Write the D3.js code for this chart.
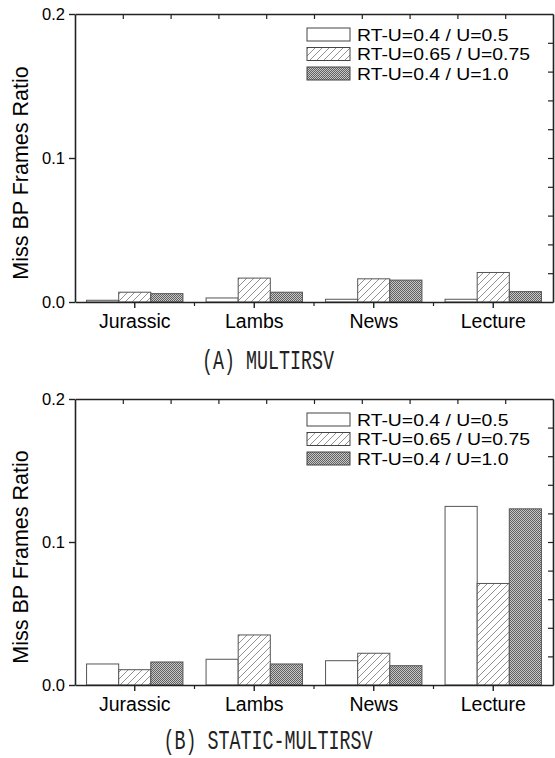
<!DOCTYPE html>
<html>
<head>
<meta charset="utf-8">
<script src="https://cdn.jsdelivr.net/npm/d3@7/dist/d3.min.js"></script>
<style>
  body { margin: 0; background: #fff; }
  svg { display: block; }
</style>
</head>
<body>
<script>
// data
const categories = ['Jurassic', 'Lambs', 'News', 'Lecture'];
const seriesNames = ['RT-U=0.4 / U=0.5', 'RT-U=0.65 / U=0.75', 'RT-U=0.4 / U=1.0'];
const yTicks = [0.0, 0.1, 0.2];

// (A) MULTIRSV
const multiLow = [0.0012, 0.0028, 0.0019, 0.0019];
const multiMid = [0.0068, 0.0166, 0.0161, 0.0205];
const multiHigh = [0.0058, 0.0068, 0.0152, 0.0072];

// (B) STATIC-MULTIRSV
const staticLow = [0.0147, 0.0180, 0.0170, 0.1249];
const staticMid = [0.0107, 0.0350, 0.0222, 0.0710];
const staticHigh = [0.0161, 0.0147, 0.0135, 0.1232];

const captions = ['(A) MULTIRSV', '(B) STATIC-MULTIRSV'];

const W = 555, H = 758;
const left = 75, right = 553;
const panels = [
  { top: 14, bottom: 302, series: [multiLow, multiMid, multiHigh], caption: captions[0], capY: 369 },
  { top: 399, bottom: 685, series: [staticLow, staticMid, staticHigh], caption: captions[1], capY: 749 }
];

const svg = d3.select('body').append('svg')
  .attr('width', W)
  .attr('height', H);

// fills: plain, hatched, dotted
const defs = svg.append('defs');
const hatch = defs.append('pattern')
  .attr('id', 'hatch')
  .attr('patternUnits', 'userSpaceOnUse')
  .attr('width', 7).attr('height', 7);
hatch.append('rect').attr('width', 7).attr('height', 7).attr('fill', '#fff');
hatch.append('path')
  .attr('d', 'M0,7 L7,0 M-1,1 L1,-1 M6,8 L8,6')
  .attr('stroke', '#777').attr('stroke-width', 0.8);

const dots = defs.append('pattern')
  .attr('id', 'dots')
  .attr('patternUnits', 'userSpaceOnUse')
  .attr('width', 2).attr('height', 2);
dots.append('rect').attr('width', 2).attr('height', 2).attr('fill', '#c8c8c8');
dots.append('rect').attr('width', 1).attr('height', 1).attr('fill', '#606060');
dots.append('rect').attr('x', 1).attr('y', 1).attr('width', 1).attr('height', 1).attr('fill', '#606060');

const fills = ['#fff', 'url(#hatch)', 'url(#dots)'];

const font = '"Liberation Sans", Arial, sans-serif';

panels.forEach(function (p) {
  const g = svg.append('g');

  const x = d3.scaleBand().domain(categories).range([left, right]).paddingInner(0).paddingOuter(0);
  const inner = d3.scaleBand().domain(d3.range(seriesNames.length)).range([0, x.bandwidth()]).paddingOuter(0.36).paddingInner(0);
  const y = d3.scaleLinear().domain([0, 0.2]).range([p.bottom, p.top]);

  // bars
  categories.forEach(function (c, ci) {
    p.series.forEach(function (s, si) {
      g.append('rect')
        .attr('x', x(c) + inner(si))
        .attr('y', y(s[ci]))
        .attr('width', inner.bandwidth())
        .attr('height', y(0) - y(s[ci]))
        .attr('fill', fills[si])
        .attr('stroke', '#555')
        .attr('stroke-width', 1);
    });
  });

  // left axis
  const yAxis = g.append('g')
    .attr('transform', 'translate(' + left + ',0)')
    .call(d3.axisLeft(y).tickValues(yTicks).tickFormat(d3.format('.1f')).tickSize(6).tickSizeOuter(0));
  yAxis.select('.domain').attr('stroke', '#222').attr('stroke-width', 1.6);
  yAxis.selectAll('.tick line').attr('stroke', '#222').attr('stroke-width', 1.4);
  yAxis.selectAll('text').attr('font-family', font).attr('font-size', 16.5).attr('fill', '#000').attr('dx', -1);

  // bottom axis
  const xAxis = g.append('g')
    .attr('transform', 'translate(0,' + p.bottom + ')')
    .call(d3.axisBottom(x).tickSize(6).tickSizeOuter(0).tickPadding(6));
  xAxis.select('.domain').attr('stroke', '#222').attr('stroke-width', 1.6);
  xAxis.selectAll('.tick line').attr('stroke', '#222').attr('stroke-width', 1.4);
  xAxis.selectAll('text').attr('font-family', font).attr('font-size', 19.5).attr('fill', '#000');

  // small ticks between categories
  g.selectAll('.between')
    .data(categories.slice(1))
    .enter().append('line')
    .attr('x1', function (c) { return x(c); })
    .attr('x2', function (c) { return x(c); })
    .attr('y1', p.bottom)
    .attr('y2', p.bottom + 4)
    .attr('stroke', '#222').attr('stroke-width', 1.2);

  // top and right frame with inward ticks
  const xt = d3.scaleLinear().domain([0, 10]).range([left, right]);
  const topAxis = g.append('g')
    .attr('transform', 'translate(0,' + p.top + ')')
    .call(d3.axisBottom(xt).tickValues(d3.range(1, 10)).tickSize(5).tickSizeOuter(0).tickFormat(''));
  topAxis.select('.domain').attr('stroke', '#222').attr('stroke-width', 1.6);
  topAxis.selectAll('.tick line').attr('stroke', '#222').attr('stroke-width', 1.2);

  const yr = d3.scaleLinear().domain([0, 10]).range([p.bottom, p.top]);
  const rightAxis = g.append('g')
    .attr('transform', 'translate(' + right + ',0)')
    .call(d3.axisLeft(yr).tickValues(d3.range(1, 10)).tickSize(5).tickSizeOuter(0).tickFormat(''));
  rightAxis.select('.domain').attr('stroke', '#222').attr('stroke-width', 1.6);
  rightAxis.selectAll('.tick line').attr('stroke', '#222').attr('stroke-width', 1.2);

  // y label
  g.append('text')
    .attr('transform', 'translate(28,' + ((p.top + p.bottom) / 2 + 15) + ') rotate(-90)')
    .attr('text-anchor', 'middle')
    .attr('font-family', font)
    .attr('font-size', 21.5)
    .attr('fill', '#000')
    .text('Miss BP Frames Ratio');

  // legend
  const leg = g.append('g').attr('transform', 'translate(307,' + (p.top + 14) + ')');
  seriesNames.forEach(function (name, i) {
    leg.append('rect')
      .attr('x', 0).attr('y', i * 19.5)
      .attr('width', 43).attr('height', 13)
      .attr('fill', fills[i])
      .attr('stroke', '#444').attr('stroke-width', 1);
    leg.append('text')
      .attr('transform', 'translate(50,' + (i * 19.5 + 12.5) + ') scale(1.14,1)')
      .attr('font-family', font)
      .attr('font-size', 17)
      .attr('fill', '#000')
      .text(name);
  });

  // caption
  g.append('text')
    .attr('transform', 'translate(' + 268 + ',' + p.capY + ') scale(0.68,1)')
    .attr('text-anchor', 'middle')
    .attr('font-family', '"Liberation Mono", "DejaVu Sans Mono", monospace')
    .attr('font-size', 27)
    .attr('fill', '#222')
    .text(p.caption);
});
</script>
</body>
</html>
